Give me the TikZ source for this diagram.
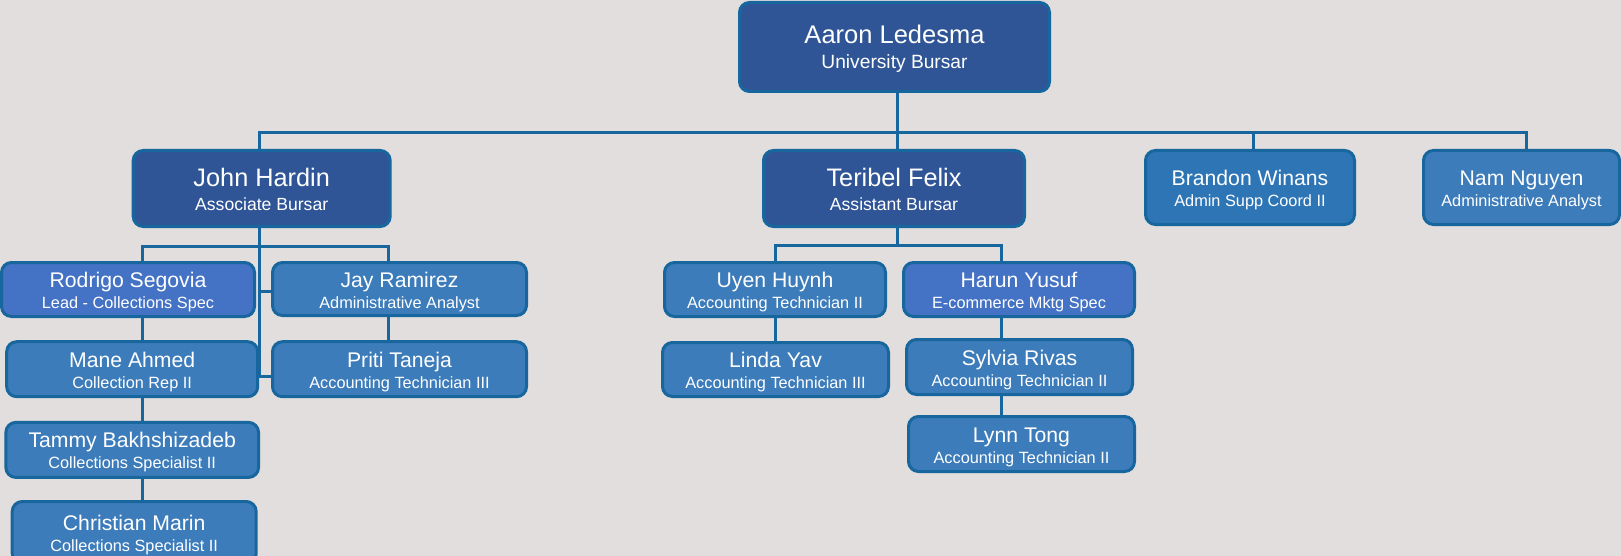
\documentclass[tikz,border=0pt]{standalone}
\usepackage{fontspec}
\setmainfont{Liberation Sans}
\usetikzlibrary{backgrounds}
\definecolor{bgc}{HTML}{E1DEDD}
\definecolor{edgec}{HTML}{17669E}
\definecolor{darkc}{HTML}{2F5597}
\definecolor{midc}{HTML}{2E75B6}
\definecolor{stdc}{HTML}{3D7CBA}
\definecolor{hic}{HTML}{4472C4}
\newcommand\bigp[2]{{\fontsize{25.3}{23.5}\selectfont\rule{0pt}{24.5pt}#1}\\{\fontsize{17.6}{23.5}\selectfont #2\rule[-4.5pt]{0pt}{0pt}}}
\newcommand\topp[2]{{\fontsize{25.5}{25}\selectfont\rule{0pt}{24pt}#1}\\{\fontsize{19.2}{25}\selectfont #2\rule[-5pt]{0pt}{0pt}}}
\newcommand\smp[2]{{\fontsize{21.2}{21}\selectfont\rule{0pt}{21pt}#1}\\{\fontsize{16.3}{21}\selectfont #2\rule[-4pt]{0pt}{0pt}}}
\begin{document}
\begin{tikzpicture}[x=1pt,y=-1pt,
  box/.style={draw=edgec, line width=3pt, rounded corners=10pt, text=white,
    align=center, inner sep=0pt, fill=stdc, font=\fontsize{16.3}{21}\selectfont},
  dark/.style={box, fill=darkc, font=\fontsize{17.6}{23.5}\selectfont},
  topbox/.style={box, fill=darkc, font=\fontsize{19.2}{25}\selectfont},
  mid/.style={box, fill=midc},
  hi/.style={box, fill=hic},
  link/.style={draw=edgec, line width=3pt, line join=miter}]
\useasboundingbox (0,0) rectangle (1621,556);
\begin{scope}[on background layer]
\fill[bgc] (0,0) rectangle (1621,556);
\end{scope}
\clip (0,0) rectangle (1621,556);
% connector columns and rows
\coordinate (busTop) at (0,133);
\coordinate (cA) at (897,0);
\coordinate (cJ) at (259.3,0);
\coordinate (cR) at (142.5,0);
\coordinate (cY) at (388.5,0);
\coordinate (cT) at (897,0);
\coordinate (cU) at (775,0);
\coordinate (cH) at (1001,0);
\coordinate (cB) at (1253,0);
\coordinate (cN) at (1526,0);
\coordinate (busJ) at (0,246);
\coordinate (busT) at (0,245);
\coordinate (jayIn) at (0,291.7);
\coordinate (pritiIn) at (0,376);
% nodes
\node[topbox, minimum width=310, minimum height=89] (aaron) at (894.5,47) {\topp{Aaron Ledesma}{University Bursar}};
\node[dark, minimum width=257, minimum height=76] (john) at (261.7,188.5) {\bigp{John Hardin}{Associate Bursar}};
\node[dark, minimum width=261, minimum height=76] (teribel) at (894,188.5) {\bigp{Teribel Felix}{Assistant Bursar}};
\node[mid, minimum width=209, minimum height=74] (brandon) at (1250,187.5) {\smp{Brandon Winans}{Admin Supp Coord II}};
\node[box, minimum width=196, minimum height=74] (nam) at (1521.5,187.5) {\smp{Nam Nguyen}{Administrative Analyst}};
\node[hi, minimum width=253, minimum height=54] (rodrigo) at (128,289.5) {\smp{Rodrigo Segovia}{Lead - Collections Spec}};
\node[box, minimum width=254, minimum height=53] (jay) at (399.5,289) {\smp{Jay Ramirez}{Administrative Analyst}};
\node[box, minimum width=251, minimum height=55] (mane) at (132.2,369.2) {\smp{Mane Ahmed}{Collection Rep II}};
\node[box, minimum width=254, minimum height=55] (priti) at (399.5,369.2) {\smp{Priti Taneja}{Accounting Technician III}};
\node[box, minimum width=252.7, minimum height=55] (tammy) at (132.2,449.9) {\smp{Tammy Bakhshizadeb}{Collections Specialist II}};
\node[box, minimum width=244, minimum height=62] (christian) at (134.2,532.5) {\smp{Christian Marin}{Collections Specialist II}};
\node[box, minimum width=221, minimum height=54] (uyen) at (775,289.5) {\smp{Uyen Huynh}{Accounting Technician II}};
\node[hi, minimum width=231, minimum height=54] (harun) at (1019,289.5) {\smp{Harun Yusuf}{E-commerce Mktg Spec}};
\node[box, minimum width=226, minimum height=54] (linda) at (775.5,369.5) {\smp{Linda Yav}{Accounting Technician III}};
\node[box, minimum width=226, minimum height=55] (sylvia) at (1019.5,367) {\smp{Sylvia Rivas}{Accounting Technician II}};
\node[box, minimum width=226, minimum height=55] (lynn) at (1021.5,444) {\smp{Lynn Tong}{Accounting Technician II}};
% connectors (behind boxes)
\begin{scope}[on background layer]
\draw[link] (aaron.south -| cA) -- (busTop -| cA);
\draw[link] (john.north -| cJ) -- (busTop -| cJ) -- (busTop -| cN) -- (nam.north -| cN);
\draw[link] (busTop -| cT) -- (teribel.north -| cT);
\draw[link] (busTop -| cB) -- (brandon.north -| cB);
% John Hardin's group
\draw[link] (john.south -| cJ) -- (pritiIn -| cJ) -- (priti.west |- pritiIn);
\draw[link] (rodrigo.north -| cR) -- (busJ -| cR) -- (busJ -| cY) -- (jay.north -| cY);
\draw[link] (jayIn -| cJ) -- (jay.west |- jayIn);
\draw[link] (rodrigo.south -| cR) -- (mane.north -| cR);
\draw[link] (mane.south -| cR) -- (tammy.north -| cR);
\draw[link] (tammy.south -| cR) -- (christian.north -| cR);
\draw[link] (jay.south -| cY) -- (priti.north -| cY);
% Teribel Felix's group
\draw[link] (teribel.south -| cT) -- (busT -| cT);
\draw[link] (uyen.north -| cU) -- (busT -| cU) -- (busT -| cH) -- (harun.north -| cH);
\draw[link] (uyen.south -| cU) -- (linda.north -| cU);
\draw[link] (harun.south -| cH) -- (sylvia.north -| cH);
\draw[link] (sylvia.south -| cH) -- (lynn.north -| cH);
\end{scope}
\end{tikzpicture}
\end{document}
